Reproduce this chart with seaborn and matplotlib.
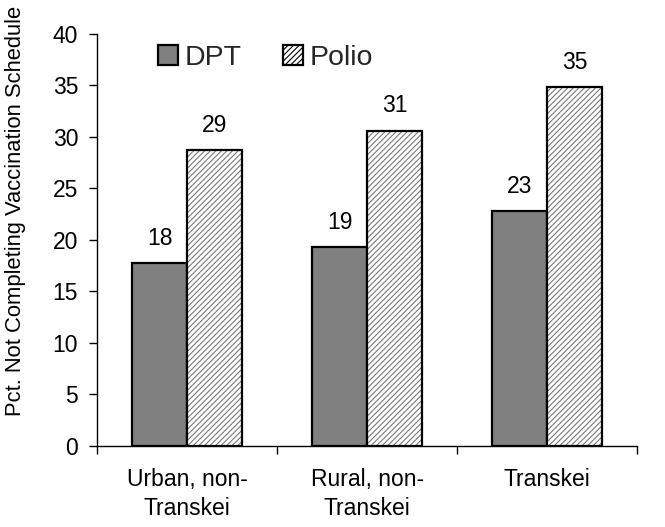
import matplotlib
matplotlib.use("Agg")
import matplotlib.pyplot as plt
from matplotlib.patches import Rectangle
import seaborn as sns
import pandas as pd

# Share of children not completing the vaccination schedule, by region
regions = ["Urban, non-\nTranskei", "Rural, non-\nTranskei", "Transkei"]
vaccines = ["DPT", "Polio"]
dpt_pct = [17.7, 19.3, 22.8]
polio_pct = [28.7, 30.6, 34.8]
y_ticks = [0, 5, 10, 15, 20, 25, 30, 35, 40]

df = pd.DataFrame({
    "region": regions * 2,
    "vaccine": [vaccines[0]] * 3 + [vaccines[1]] * 3,
    "pct": dpt_pct + polio_pct,
})

sns.set_theme(style="white")
plt.rcParams["font.family"] = ["Liberation Sans", "DejaVu Sans"]
plt.rcParams["hatch.linewidth"] = 0.8
plt.rcParams["hatch.color"] = "#7a7a7a"

fig = plt.figure(figsize=(6.65, 5.27), dpi=100)
ax = fig.add_axes([0.146, 0.154, 0.812, 0.782])

sns.barplot(data=df, x="region", y="pct", hue="vaccine", order=regions,
            hue_order=vaccines, palette={"DPT": "#808080", "Polio": "white"},
            width=0.611, edgecolor="black", linewidth=1.6, ax=ax,
            legend=False, errorbar=None)

dpt_bars, polio_bars = ax.containers[0], ax.containers[1]
for p in polio_bars:
    p.set_hatch("//////")
    p.set_edgecolor("#7a7a7a")
    p.set_linewidth(0)
    ax.add_patch(Rectangle(p.get_xy(), p.get_width(), p.get_height(),
                           fill=False, edgecolor="black", linewidth=1.6,
                           zorder=p.get_zorder() + 0.1))

for cont in (dpt_bars, polio_bars):
    ax.bar_label(cont, fmt="%.0f", padding=9.5, fontsize=16.5, color="black")

ax.set_ylim(0, 40)
ax.set_yticks(y_ticks)
ax.set_xlim(-0.5, 2.5)
ax.set_xlabel("")
ax.set_ylabel("Pct. Not Completing Vaccination Schedule", fontsize=15.8,
              color="black")
ax.yaxis.set_label_coords(-0.131, 0.57)

for side in ("top", "right"):
    ax.spines[side].set_visible(False)
for side in ("left", "bottom"):
    ax.spines[side].set_color("black")
    ax.spines[side].set_linewidth(1.0)

ax.tick_params(axis="y", which="major", direction="out", length=5.6, width=1,
               color="black", labelsize=16.5, labelcolor="black", pad=8,
               left=True)
ax.set_xticks([-0.5, 0.5, 1.5, 2.5], minor=True)
ax.tick_params(axis="x", which="minor", direction="out", length=5.5, width=1,
               color="black", bottom=True)
ax.tick_params(axis="x", which="major", length=0, labelsize=16.5,
               labelcolor="black", pad=16)
for lbl in ax.get_xticklabels():
    lbl.set_linespacing(1.35)

handles = [Rectangle((0, 0), 1, 1, facecolor="#808080", edgecolor="black",
                     linewidth=1.6),
           Rectangle((0, 0), 1, 1, facecolor="white", edgecolor="black",
                     linewidth=1.6, hatch="//////")]
fig.legend(handles, vaccines, loc="center left",
           bbox_to_anchor=(157.7 / 665, 1 - 57.7 / 527), ncol=2,
           frameon=False, fontsize=20.5, handlelength=0.7, handleheight=0.7,
           handletextpad=0.25, columnspacing=1.45, borderpad=0,
           borderaxespad=0)

fig.savefig("out.png", dpi=100, facecolor="white")
